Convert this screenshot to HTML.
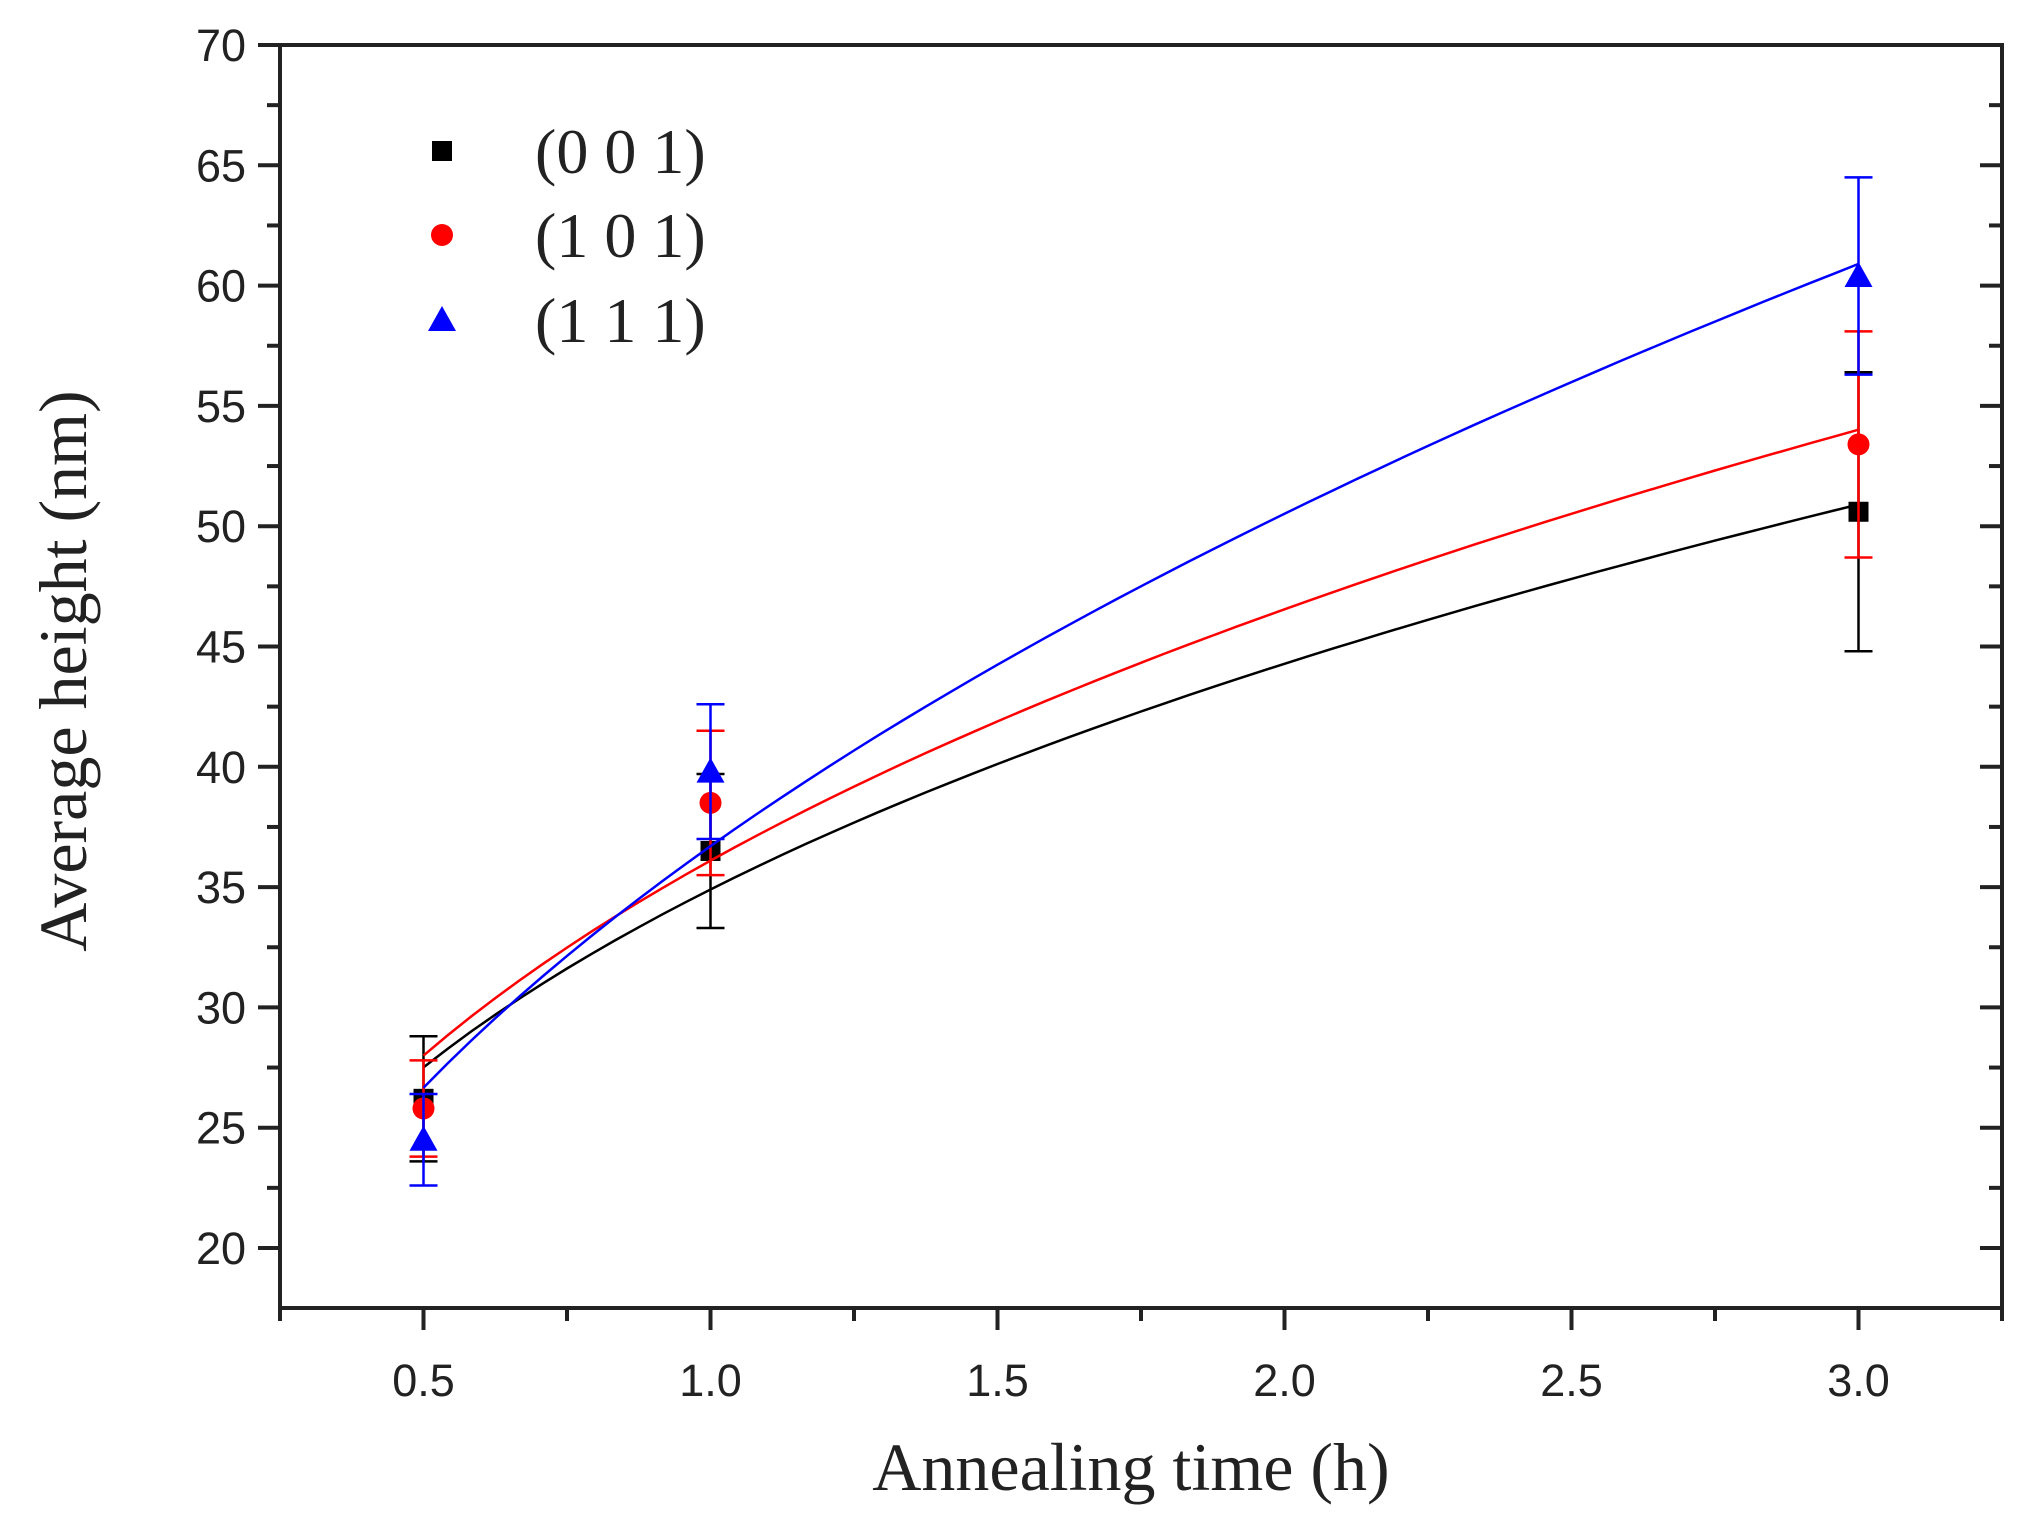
<!DOCTYPE html>
<html><head><meta charset="utf-8"><style>
body{margin:0;background:#fff;width:2022px;height:1531px;overflow:hidden}
svg{display:block}
.tk{font-family:"Liberation Sans",Arial,sans-serif;font-size:45px;fill:#222}
.ttl{font-family:"Liberation Serif",serif;font-size:68px;fill:#222}
.lg{font-family:"Liberation Serif",serif;font-size:64px;fill:#222}
</style></head><body>
<svg id="chart" width="2022" height="1531"></svg>
<script>
const xTicks=[0.5,1.0,1.5,2.0,2.5,3.0];
const xTickLabels=["0.5","1.0","1.5","2.0","2.5","3.0"];
const yTicks=[20,25,30,35,40,45,50,55,60,65,70];
const times=[0.5,1.0,3.0];
const s001=[26.2,36.5,50.6];
const e001=[2.6,3.2,5.8];
const s101=[25.8,38.5,53.4];
const e101=[2.0,3.0,4.7];
const s111=[24.5,39.8,60.4];
const e111=[1.9,2.8,4.1];
const fitA=[34.9,36.1,36.7];
const fitB=[0.3435,0.3667,0.461];
const names=["(0 0 1)","(1 0 1)","(1 1 1)"];
const colors=["#000","#f00","#00f"];

const L=280,R=2002,T=45,B=1308;
const X0=0.25,X1=3.25;
const xs=v=>L+(v-X0)/(X1-X0)*(R-L);
const ys=v=>1248-(v-20)*24.06;
const svg=document.getElementById('chart');
const NS='http://www.w3.org/2000/svg';
function mk(t,a,p){const e=document.createElementNS(NS,t);for(const k in a)e.setAttribute(k,a[k]);(p||svg).appendChild(e);return e;}

const frame=mk('rect',{x:L,y:T,width:R-L,height:B-T,fill:'none',stroke:'#222','stroke-width':4});



xTicks.forEach((v,i)=>{
  const x=xs(v);
  const t=mk('line',{x1:x,y1:B,x2:x,y2:B+22,stroke:'#222','stroke-width':4});
  
  
  const m=mk('line',{x1:xs(v-0.25),y1:B,x2:xs(v-0.25),y2:B+13,stroke:'#222','stroke-width':4});
  
  
  const lb=mk('text',{x:x,y:B+88,'text-anchor':'middle',class:'tk'});
  lb.textContent=xTickLabels[i];
  
  
});
const m2=mk('line',{x1:xs(3.25),y1:B,x2:xs(3.25),y2:B+13,stroke:'#222','stroke-width':4});



yTicks.forEach(v=>{
  const y=ys(v);
  const t=mk('line',{x1:L-22,y1:y,x2:L,y2:y,stroke:'#222','stroke-width':4});
  
  
  const t2=mk('line',{x1:R-22,y1:y,x2:R,y2:y,stroke:'#222','stroke-width':4});
  
  
  if(v>20){
    const m=mk('line',{x1:L-13,y1:ys(v-2.5),x2:L,y2:ys(v-2.5),stroke:'#222','stroke-width':4});
    
    
    const m3=mk('line',{x1:R-13,y1:ys(v-2.5),x2:R,y2:ys(v-2.5),stroke:'#222','stroke-width':4});
    
    
  }
  const lb=mk('text',{x:L-34,y:y+16,'text-anchor':'end',class:'tk'});
  lb.textContent=String(v);
  
  
});

const xt=mk('text',{x:1131,y:1490,'text-anchor':'middle',class:'ttl'});
xt.textContent='Annealing time (h)';


const yt=mk('text',{x:0,y:0,'text-anchor':'middle',class:'ttl',transform:'translate(86,671) rotate(-90)'});
yt.textContent='Average height (nm)';



const series=[s001,s101,s111], errs=[e001,e101,e111];
function marker(k,x,y,g){
  let e;
  if(k===0)e=mk('rect',{x:x-10,y:y-10,width:20,height:20,fill:colors[0]},g);
  else if(k===1)e=mk('circle',{cx:x,cy:y,r:11,fill:colors[1]},g);
  else e=mk('polygon',{points:`${x},${y-14} ${x-14},${y+11} ${x+14},${y+11}`,fill:colors[2]},g);
  return e;
}
series.forEach((s,k)=>{
  const g=mk('g',{});
  
  
  let d='';
  for(let i=0;i<=60;i++){const t=0.5+i*2.5/60;const v=fitA[k]*Math.pow(t,fitB[k]);d+=(i?'L':'M')+xs(t).toFixed(1)+','+ys(v).toFixed(1);}
  const p=mk('path',{d:d,fill:'none',stroke:colors[k],'stroke-width':2.5},g);
  
  
  s.forEach((v,i)=>{
    const x=xs(times[i]),e=errs[k][i];
    const eb=mk('path',{d:`M${x},${ys(v-e)}V${ys(v+e)}M${x-14},${ys(v-e)}h28M${x-14},${ys(v+e)}h28`,stroke:colors[k],'stroke-width':2.5,fill:'none'},g);
    
    
    const m=marker(k,x,ys(v),g);
    
    
  });
});

const lgY=[151,235,320];
names.forEach((n,k)=>{
  const g=mk('g',{});
  
  
  marker(k,442,lgY[k],g);
  const t=mk('text',{x:535,y:lgY[k]+22,class:'lg'},g);
  t.textContent=n;
});
</script>
</body></html>
